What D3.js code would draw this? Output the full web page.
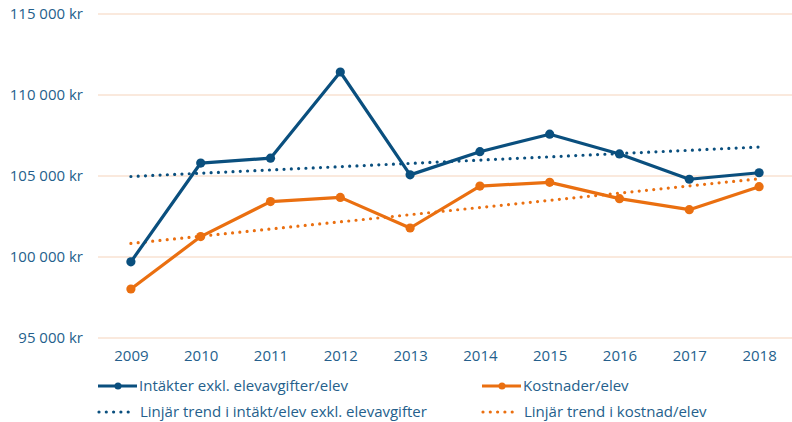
<!DOCTYPE html>
<html><head><meta charset="utf-8">
<script src="https://cdn.jsdelivr.net/npm/d3@7"></script>
<style>
body{margin:0;background:#fff;}
text{font-family:"Open Sans",sans-serif;}
</style></head>
<body><svg id="c" width="792" height="422"></svg>
<script>
const years = ["2009","2010","2011","2012","2013","2014","2015","2016","2017","2018"];
const intakter = [99700,105800,106100,111420,105070,106500,107580,106360,104800,105200];
const kostnader = [98025,101260,103420,103680,101790,104380,104610,103600,102920,104340];
const trendIntakt = [104970,106790];   // 2009, 2018
const trendKostnad = [100840,104830];  // 2009, 2018
const yTicks = [95000,100000,105000,110000,115000];
const legendLabels = ["Intäkter exkl. elevavgifter/elev","Kostnader/elev","Linjär trend i intäkt/elev exkl. elevavgifter","Linjär trend i kostnad/elev"];

const BLUE="#0a4f7e", ORANGE="#ea6f10", TEXT="#255f8c", GRID="#f8e2d2";
const svg=d3.select("#c");
const x=d3.scalePoint().domain(years).range([96,794]).padding(0.5);
const y=d3.scaleLinear().domain([95000,115000]).range([338,14]);
const fmt=v=>d3.format(",")(v).replace(/,/g," ")+" kr";

// grid
svg.append("g").selectAll("line").data(yTicks).join("line")
  .attr("x1",98).attr("x2",792).attr("y1",d=>y(d)).attr("y2",d=>y(d))
  .attr("stroke",GRID).attr("stroke-width",1.5);
// y labels
const ya=svg.append("g").attr("transform","translate(83,0)")
  .call(d3.axisLeft(y).tickValues(yTicks).tickFormat(fmt).tickSize(0).tickPadding(0));
ya.select(".domain").remove();
ya.selectAll("text").attr("fill",TEXT).style("font-size","15px").style("font-family","Open Sans");
// x labels
const xa=svg.append("g").attr("transform","translate(0,347)")
  .call(d3.axisBottom(x).tickSize(0).tickPadding(0));
xa.select(".domain").remove();
xa.selectAll("text").attr("fill",TEXT).attr("dy","0.95em").style("font-size","15px").style("font-family","Open Sans");

const line=d3.line().x((d,i)=>x(years[i])).y(d=>y(d));
function trend(vals,color){
  svg.append("line").attr("x1",x(years[0])).attr("x2",x(years[years.length-1]))
    .attr("y1",y(vals[0])).attr("y2",y(vals[1]))
    .attr("stroke",color).attr("stroke-width",3.2).attr("stroke-linecap","round")
    .attr("stroke-dasharray","0 7.3");
}
trend(trendIntakt,BLUE);
trend(trendKostnad,ORANGE);
function series(vals,color){
  svg.append("path").datum(vals).attr("d",line).attr("fill","none")
    .attr("stroke",color).attr("stroke-width",3.2).attr("stroke-linejoin","round");
  svg.append("g").selectAll("circle").data(vals).join("circle")
    .attr("cx",(d,i)=>x(years[i])).attr("cy",d=>y(d)).attr("r",4.6).attr("fill",color);
}
series(kostnader,ORANGE);
series(intakter,BLUE);

// legend
const lg=svg.append("g");
const items=[
  {x:98,y:386,c:BLUE,t:legendLabels[0],dot:false},
  {x:482,y:386,c:ORANGE,t:legendLabels[1],dot:false},
  {x:98,y:412,c:BLUE,t:legendLabels[2],dot:true},
  {x:482,y:412,c:ORANGE,t:legendLabels[3],dot:true}];
items.forEach(it=>{
  if(it.dot){
    lg.append("line").attr("x1",it.x+1).attr("x2",it.x+33).attr("y1",it.y).attr("y2",it.y)
      .attr("stroke",it.c).attr("stroke-width",3.2).attr("stroke-linecap","round").attr("stroke-dasharray","0 7.3");
  } else {
    lg.append("line").attr("x1",it.x).attr("x2",it.x+39).attr("y1",it.y).attr("y2",it.y)
      .attr("stroke",it.c).attr("stroke-width",3.2);
    lg.append("circle").attr("cx",it.x+20).attr("cy",it.y).attr("r",3.5).attr("fill",it.c);
  }
  lg.append("text").attr("x",it.x+(it.dot?42:41)).attr("y",it.y).attr("dy","0.35em")
    .attr("fill",TEXT).style("font-size","15px").text(it.t);
});
</script></body></html>
